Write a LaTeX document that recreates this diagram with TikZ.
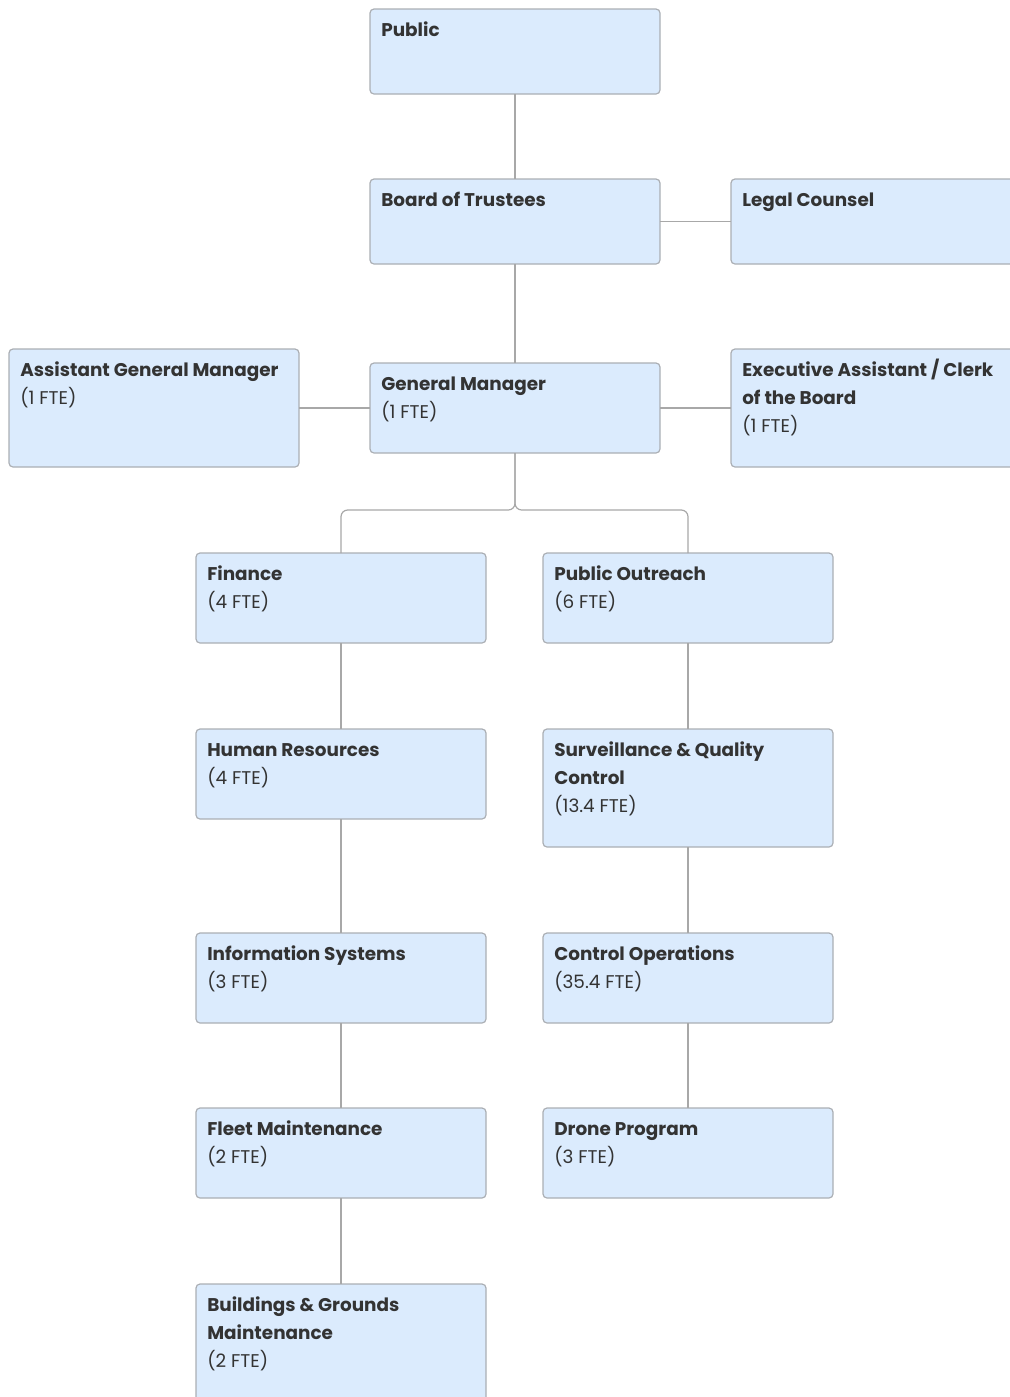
\documentclass[tikz,border=0pt]{standalone}
\usepackage{fontspec}
\setmainfont{Poppins}
\definecolor{boxc}{HTML}{DBEBFD}
\definecolor{bordc}{HTML}{ABAFB4}
\definecolor{linec}{HTML}{A8A8A8}
\definecolor{txtc}{HTML}{333333}
\begin{document}
\begin{tikzpicture}[x=0.75pt,y=-0.75pt,
  orgbox/.style={draw=bordc, fill=boxc, rounded corners=3pt, line width=0.9pt, inner sep=0pt, outer sep=0pt, anchor=north west},
  bt/.style={anchor=base west, inner sep=0pt, text=txtc, font=\fontsize{13.8}{16}\selectfont\bfseries},
  rt/.style={anchor=base west, inner sep=0pt, text=txtc, font=\fontsize{13.8}{16}\selectfont},
  conn/.style={draw=linec, line width=0.9pt}]
\useasboundingbox (0,0) rectangle (1010,1397);
\clip (0,0) rectangle (1010,1397);
% boxes
\node[orgbox, minimum width=217.5pt, minimum height=63.75pt] (public) at (370,9) {};
\node[orgbox, minimum width=217.5pt, minimum height=63.75pt] (board) at (370,179) {};
\node[orgbox, minimum width=217.5pt, minimum height=63.75pt] (legal) at (731,179) {};
\node[orgbox, minimum width=217.5pt, minimum height=88.5pt] (agm) at (9,349) {};
\node[orgbox, minimum width=217.5pt, minimum height=67.5pt] (gm) at (370,363) {};
\node[orgbox, minimum width=217.5pt, minimum height=88.5pt] (exec) at (731,349) {};
\node[orgbox, minimum width=217.5pt, minimum height=67.5pt] (fin) at (196,553) {};
\node[orgbox, minimum width=217.5pt, minimum height=67.5pt] (outr) at (543,553) {};
\node[orgbox, minimum width=217.5pt, minimum height=67.5pt] (hr) at (196,729) {};
\node[orgbox, minimum width=217.5pt, minimum height=88.5pt] (surv) at (543,729) {};
\node[orgbox, minimum width=217.5pt, minimum height=67.5pt] (info) at (196,933) {};
\node[orgbox, minimum width=217.5pt, minimum height=67.5pt] (ctrl) at (543,933) {};
\node[orgbox, minimum width=217.5pt, minimum height=67.5pt] (fleet) at (196,1108) {};
\node[orgbox, minimum width=217.5pt, minimum height=67.5pt] (drone) at (543,1108) {};
\node[orgbox, minimum width=217.5pt, minimum height=88.5pt] (bldg) at (196,1284) {};
% labels
\node[bt] (public-1) at ([shift={(11,27)}]public.north west) {Public};
\node[bt] (board-1) at ([shift={(11,27)}]board.north west) {Board of Trustees};
\node[bt] (legal-1) at ([shift={(11,27)}]legal.north west) {Legal Counsel};
\node[bt] (agm-1) at ([shift={(11,27)}]agm.north west) {Assistant General Manager};
\node[rt] (agm-2) at ([shift={(11,55)}]agm.north west) {(1 FTE)};
\node[bt] (gm-1) at ([shift={(11,27)}]gm.north west) {General Manager};
\node[rt] (gm-2) at ([shift={(11,55)}]gm.north west) {(1 FTE)};
\node[bt] (exec-1) at ([shift={(11,27)}]exec.north west) {Executive Assistant / Clerk};
\node[bt] (exec-2) at ([shift={(11,55)}]exec.north west) {of the Board};
\node[rt] (exec-3) at ([shift={(11,83)}]exec.north west) {(1 FTE)};
\node[bt] (fin-1) at ([shift={(11,27)}]fin.north west) {Finance};
\node[rt] (fin-2) at ([shift={(11,55)}]fin.north west) {(4 FTE)};
\node[bt] (outr-1) at ([shift={(11,27)}]outr.north west) {Public Outreach};
\node[rt] (outr-2) at ([shift={(11,55)}]outr.north west) {(6 FTE)};
\node[bt] (hr-1) at ([shift={(11,27)}]hr.north west) {Human Resources};
\node[rt] (hr-2) at ([shift={(11,55)}]hr.north west) {(4 FTE)};
\node[bt] (surv-1) at ([shift={(11,27)}]surv.north west) {Surveillance \& Quality};
\node[bt] (surv-2) at ([shift={(11,55)}]surv.north west) {Control};
\node[rt] (surv-3) at ([shift={(11,83)}]surv.north west) {(13.4 FTE)};
\node[bt] (info-1) at ([shift={(11,27)}]info.north west) {Information Systems};
\node[rt] (info-2) at ([shift={(11,55)}]info.north west) {(3 FTE)};
\node[bt] (ctrl-1) at ([shift={(11,27)}]ctrl.north west) {Control Operations};
\node[rt] (ctrl-2) at ([shift={(11,55)}]ctrl.north west) {(35.4 FTE)};
\node[bt] (fleet-1) at ([shift={(11,27)}]fleet.north west) {Fleet Maintenance};
\node[rt] (fleet-2) at ([shift={(11,55)}]fleet.north west) {(2 FTE)};
\node[bt] (drone-1) at ([shift={(11,27)}]drone.north west) {Drone Program};
\node[rt] (drone-2) at ([shift={(11,55)}]drone.north west) {(3 FTE)};
\node[bt] (bldg-1) at ([shift={(11,27)}]bldg.north west) {Buildings \& Grounds};
\node[bt] (bldg-2) at ([shift={(11,55)}]bldg.north west) {Maintenance};
\node[rt] (bldg-3) at ([shift={(11,83)}]bldg.north west) {(2 FTE)};
% connectors
\draw[conn] (public.south) -- (board.north);
\draw[conn] (board.east) -- (legal.west);
\draw[conn] (board.south) -- (gm.north);
\draw[conn] (gm.west) -- (agm.east);
\draw[conn] (gm.east) -- (exec.west);
\draw[conn, rounded corners=5pt] (gm.south) -- ++(0,57) -| (fin.north);
\draw[conn, rounded corners=5pt] (gm.south) -- ++(0,57) -| (outr.north);
\draw[conn] (fin.south) -- (hr.north);
\draw[conn] (hr.south) -- (info.north);
\draw[conn] (info.south) -- (fleet.north);
\draw[conn] (fleet.south) -- (bldg.north);
\draw[conn] (outr.south) -- (surv.north);
\draw[conn] (surv.south) -- (ctrl.north);
\draw[conn] (ctrl.south) -- (drone.north);
\end{tikzpicture}
\end{document}
